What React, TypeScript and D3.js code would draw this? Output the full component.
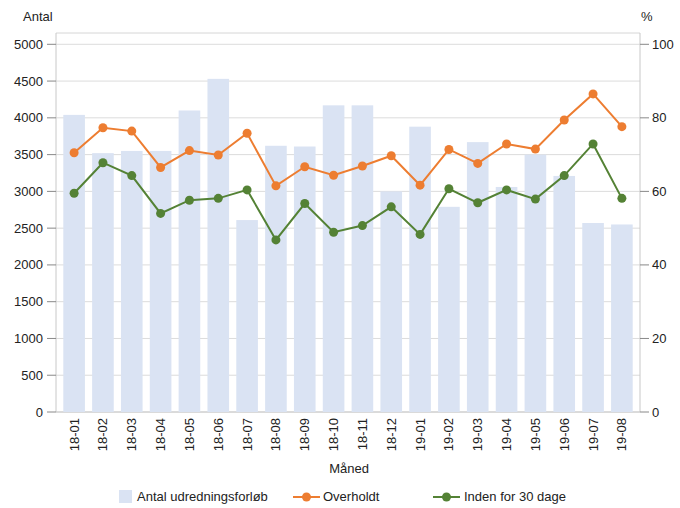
import React from "react";
import * as d3 from "d3";

const months = [
  "18-01", "18-02", "18-03", "18-04", "18-05", "18-06", "18-07", "18-08", "18-09", "18-10",
  "18-11", "18-12", "19-01", "19-02", "19-03", "19-04", "19-05", "19-06", "19-07", "19-08",
];
const antal = [
  4040, 3520, 3550, 3550, 4100, 4530, 2610, 3620, 3610, 4170,
  4170, 3000, 3880, 2790, 3670, 3060, 3500, 3210, 2570, 2550,
];
const overholdt = [
  70.5, 77.3, 76.4, 66.5, 71.1, 69.9, 75.8, 61.5, 66.7, 64.4,
  66.9, 69.7, 61.7, 71.4, 67.6, 72.9, 71.5, 79.4, 86.5, 77.6,
];
const inden30 = [
  59.5, 67.8, 64.3, 54.0, 57.6, 58.1, 60.4, 46.8, 56.7, 48.9,
  50.7, 55.8, 48.3, 60.7, 56.9, 60.4, 57.9, 64.3, 72.9, 58.1,
];
const leftTicks = [0, 500, 1000, 1500, 2000, 2500, 3000, 3500, 4000, 4500, 5000];
const rightTicks = [0, 20, 40, 60, 80, 100];

const W = 680;
const H = 508;
const left = 56;
const right = 640;
const top = 33;
const bottom = 412;

const BAR = "#dae3f3";
const ORANGE = "#ed7d31";
const GREEN = "#548235";
const FONT = "'Liberation Sans', Arial, sans-serif";
const TXT = "#222";

export default function App() {
  const x = d3.scaleBand<string>().domain(months).range([63.3, 632.7]).paddingInner(0.25);
  const yL = d3.scaleLinear().domain([0, 5000]).range([bottom, 44.3]);
  const yR = d3.scaleLinear().domain([0, 100]).range([bottom, 44.3]);
  const cx = (m: string) => (x(m) ?? 0) + x.bandwidth() / 2;

  const line = (vals: number[]) =>
    d3.line<number>().x((_, i) => cx(months[i])).y((d) => yR(d))(vals) ?? "";

  return (
    <svg width={W} height={H} style={{ position: "absolute", left: 0, top: 0 }} fontFamily={FONT}>
      <rect width={W} height={H} fill="#fff" />
      {/* grid + frame */}
      {leftTicks.map((t) => (
        <line key={t} x1={left} x2={right} y1={yL(t)} y2={yL(t)} stroke="#dcdcdc" />
      ))}
      <line x1={left} x2={right} y1={top} y2={top} stroke="#d6d6d6" />
      <line x1={left} x2={left} y1={top} y2={bottom} stroke="#c8c8c8" />
      <line x1={right} x2={right} y1={top} y2={bottom} stroke="#c8c8c8" />
      <line x1={left} x2={right} y1={bottom} y2={bottom} stroke="#c8c8c8" />

      {/* bars */}
      {months.map((m, i) => (
        <rect key={m} x={x(m)} y={yL(antal[i])} width={x.bandwidth()} height={bottom - yL(antal[i])} fill={BAR} />
      ))}

      {/* lines */}
      <path d={line(overholdt)} fill="none" stroke={ORANGE} strokeWidth={2} />
      {overholdt.map((v, i) => (
        <circle key={"o" + i} cx={cx(months[i])} cy={yR(v)} r={4.5} fill={ORANGE} />
      ))}
      <path d={line(inden30)} fill="none" stroke={GREEN} strokeWidth={2} />
      {inden30.map((v, i) => (
        <circle key={"g" + i} cx={cx(months[i])} cy={yR(v)} r={4.5} fill={GREEN} />
      ))}

      {/* left axis */}
      {leftTicks.map((t) => (
        <g key={"l" + t}>
          <line x1={47} x2={left} y1={yL(t)} y2={yL(t)} stroke="#888" />
          <text x={43} y={yL(t)} dy="0.35em" textAnchor="end" fontSize={13} fill={TXT}>{t}</text>
        </g>
      ))}
      {/* right axis */}
      {rightTicks.map((t) => (
        <g key={"r" + t}>
          <line x1={right} x2={649} y1={yR(t)} y2={yR(t)} stroke="#888" />
          <text x={652} y={yR(t)} dy="0.35em" fontSize={13} fill={TXT}>{t}</text>
        </g>
      ))}
      {/* x labels */}
      {months.map((m) => (
        <text key={"x" + m} transform={`translate(${cx(m) + 4.5},${bottom + 6}) rotate(-90)`} textAnchor="end" fontSize={13} fill={TXT}>
          {m}
        </text>
      ))}

      <text x={23} y={21} fontSize={13} fill={TXT}>Antal</text>
      <text x={641} y={21} fontSize={13} fill={TXT}>%</text>
      <text x={349} y={473} textAnchor="middle" fontSize={13} fill={TXT}>Måned</text>

      {/* legend */}
      <rect x={119} y={490} width={13} height={13} fill={BAR} />
      <text x={137} y={501} fontSize={13} fill={TXT}>Antal udredningsforløb</text>
      <line x1={293} x2={320} y1={497} y2={497} stroke={ORANGE} strokeWidth={2} />
      <circle cx={306.5} cy={497} r={4.5} fill={ORANGE} />
      <text x={323} y={501} fontSize={13} fill={TXT}>Overholdt</text>
      <line x1={433} x2={460} y1={497} y2={497} stroke={GREEN} strokeWidth={2} />
      <circle cx={446.5} cy={497} r={4.5} fill={GREEN} />
      <text x={464} y={501} fontSize={13} fill={TXT}>Inden for 30 dage</text>
    </svg>
  );
}
